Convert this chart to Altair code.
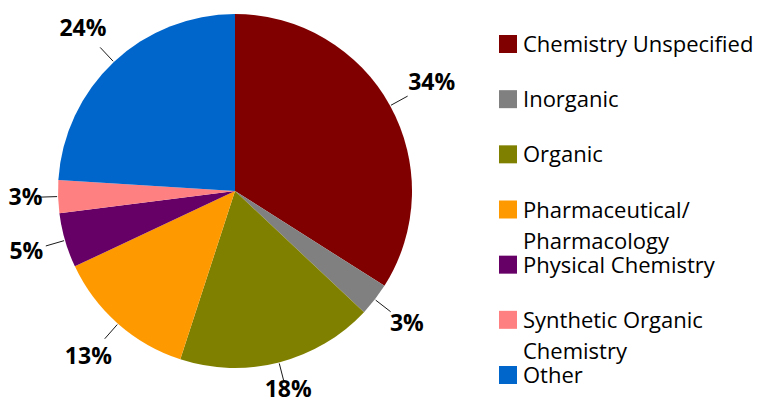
import altair as alt
import pandas as pd

# ---- data ----
categories = ["Chemistry Unspecified", "Inorganic", "Organic",
              "Pharmaceutical/Pharmacology", "Physical Chemistry",
              "Synthetic Organic Chemistry", "Other"]
legend_labels = ["Chemistry Unspecified", "Inorganic", "Organic",
                 "Pharmaceutical/\nPharmacology", "Physical Chemistry",
                 "Synthetic Organic\nChemistry", "Other"]
shares = [34, 3, 18, 13, 5, 3, 24]
colors = ["#800000", "#808080", "#808000", "#FF9900", "#660066", "#FF8080", "#0066CC"]

# ---- layout constants ----
W, H = 749, 395
CX, CY, R = 227, 183, 177
GAP = 23
CHAR_W = 15.5
TXT_H = 17
FONT = "Open Sans"

df = pd.DataFrame({
    "category": categories,
    "legend": legend_labels,
    "share": shares,
    "order": list(range(len(categories))),
})

color = alt.Color("category:N", scale=alt.Scale(domain=categories, range=colors), legend=None)
base = alt.Chart(df)

pie = base.mark_arc(outerRadius=R).encode(
    theta=alt.Theta("share:Q", stack=True),
    color=color,
    order=alt.Order("order:Q"),
    x=alt.value(CX),
    y=alt.value(CY),
)

calc = base.transform_joinaggregate(
    total="sum(share)"
).transform_window(
    cum="sum(share)", sort=[alt.SortField("order")], frame=[None, 0]
).transform_calculate(
    ang="2*PI*(datum.cum - datum.share/2)/datum.total",
    s="sin(datum.ang)",
    c="cos(datum.ang)",
    txt="datum.share + '%'",
).transform_calculate(
    hw=f"{CHAR_W}*length(datum.txt)/2",
).transform_calculate(
    ext=f"datum.hw*abs(datum.s) + {TXT_H}/2*abs(datum.c)",
).transform_calculate(
    d=f"{R}+{GAP}+datum.ext",
    x0=f"{CX}+{R + 1}*datum.s",
    y0=f"{CY}-{R + 1}*datum.c",
    x1=f"{CX}+{R + GAP - 3}*datum.s",
    y1=f"{CY}-{R + GAP - 3}*datum.c",
).transform_calculate(
    lx=f"max(datum.hw + 2, {CX}+datum.d*datum.s)",
    ly=f"min({H} - {TXT_H}/2 - 5, {CY}-datum.d*datum.c)",
)

leaders = calc.mark_rule(color="#1a1a1a", strokeWidth=1).encode(
    x=alt.X("x0:Q", scale=None),
    y=alt.Y("y0:Q", scale=None),
    x2="x1:Q",
    y2="y1:Q",
)

labels = calc.mark_text(
    font=FONT, fontSize=23, fontWeight="bold", color="#000000",
    align="center", baseline="middle",
).encode(
    x=alt.X("lx:Q", scale=None),
    y=alt.Y("ly:Q", scale=None),
    text="txt:N",
)

legend_y = alt.Y("category:N", sort=categories, axis=None,
                 scale=alt.Scale(type="point", range=[36, 367], padding=0))

legend_keys = base.mark_square(size=324, opacity=1).encode(
    x=alt.value(500),
    y=legend_y,
    color=color,
)

legend_text = base.mark_text(
    font=FONT, fontSize=22, color="#000000", align="left",
    baseline="alphabetic", dy=8, lineBreak="\n", lineHeight=31,
).encode(
    x=alt.value(515),
    y=legend_y,
    text="legend:N",
)

chart = alt.layer(pie, leaders, labels, legend_keys, legend_text).resolve_scale(
    y="independent", x="independent"
).properties(
    width=W, height=H,
    autosize=alt.AutoSizeParams(type="none"),
    padding=0,
).configure_view(stroke=None)

chart.save("out.html", embed_options={"renderer": "svg", "actions": False})
